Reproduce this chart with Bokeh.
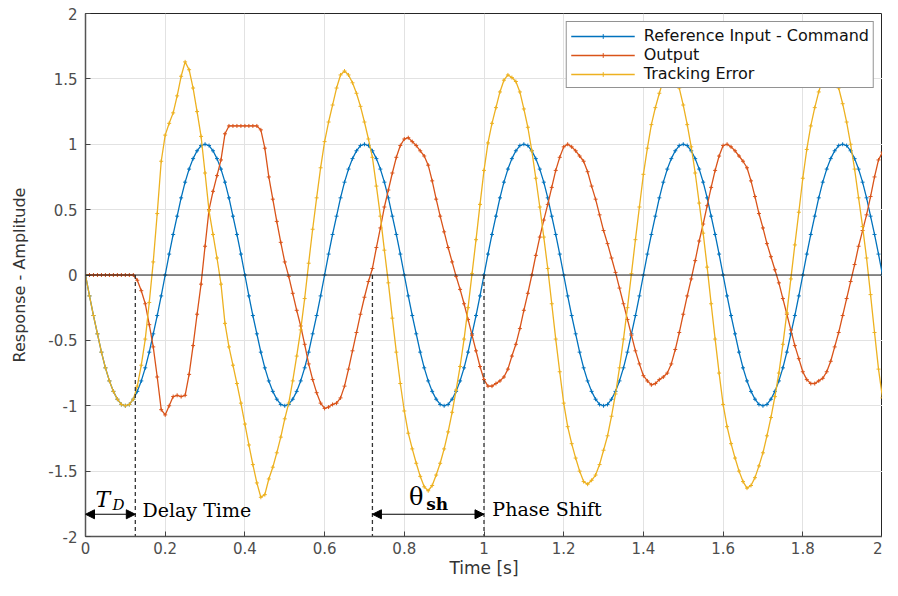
import numpy as np
from bokeh.plotting import figure
from bokeh.models import Span, Arrow, NormalHead, Label, FixedTicker, CustomJSTickFormatter, Range1d
from bokeh.embed import file_html
from bokeh.resources import INLINE

# ---------------- data ----------------
time_s = np.round(np.arange(201) * 0.01, 2)

reference_input = [
    0.0, -0.16, -0.31, -0.45, -0.59, -0.71, -0.81, -0.89, -0.95, -0.99,
    -1.0, -0.99, -0.95, -0.89, -0.81, -0.71, -0.59, -0.45, -0.31, -0.16,
    0.0, 0.16, 0.31, 0.45, 0.59, 0.71, 0.81, 0.89, 0.95, 0.99,
    1.0, 0.99, 0.95, 0.89, 0.81, 0.71, 0.59, 0.45, 0.31, 0.16,
    0.0, -0.16, -0.31, -0.45, -0.59, -0.71, -0.81, -0.89, -0.95, -0.99,
    -1.0, -0.99, -0.95, -0.89, -0.81, -0.71, -0.59, -0.45, -0.31, -0.16,
    0.0, 0.16, 0.31, 0.45, 0.59, 0.71, 0.81, 0.89, 0.95, 0.99,
    1.0, 0.99, 0.95, 0.89, 0.81, 0.71, 0.59, 0.45, 0.31, 0.16,
    0.0, -0.16, -0.31, -0.45, -0.59, -0.71, -0.81, -0.89, -0.95, -0.99,
    -1.0, -0.99, -0.95, -0.89, -0.81, -0.71, -0.59, -0.45, -0.31, -0.16,
    0.0, 0.16, 0.31, 0.45, 0.59, 0.71, 0.81, 0.89, 0.95, 0.99,
    1.0, 0.99, 0.95, 0.89, 0.81, 0.71, 0.59, 0.45, 0.31, 0.16,
    0.0, -0.16, -0.31, -0.45, -0.59, -0.71, -0.81, -0.89, -0.95, -0.99,
    -1.0, -0.99, -0.95, -0.89, -0.81, -0.71, -0.59, -0.45, -0.31, -0.16,
    0.0, 0.16, 0.31, 0.45, 0.59, 0.71, 0.81, 0.89, 0.95, 0.99,
    1.0, 0.99, 0.95, 0.89, 0.81, 0.71, 0.59, 0.45, 0.31, 0.16,
    0.0, -0.16, -0.31, -0.45, -0.59, -0.71, -0.81, -0.89, -0.95, -0.99,
    -1.0, -0.99, -0.95, -0.89, -0.81, -0.71, -0.59, -0.45, -0.31, -0.16,
    0.0, 0.16, 0.31, 0.45, 0.59, 0.71, 0.81, 0.89, 0.95, 0.99,
    1.0, 0.99, 0.95, 0.89, 0.81, 0.71, 0.59, 0.45, 0.31, 0.16,
    0.0,
]

output = [
    0.0, 0.0, 0.0, 0.0, 0.0, 0.0, 0.0, 0.0, 0.0, 0.0,
    0.0, 0.0, 0.0, -0.04, -0.12, -0.22, -0.38, -0.55, -0.78, -1.03,
    -1.07, -1.0, -0.93, -0.92, -0.93, -0.92, -0.76, -0.54, -0.3, -0.07,
    0.22, 0.5, 0.64, 0.76, 0.88, 1.08, 1.14, 1.14, 1.14, 1.14,
    1.14, 1.14, 1.14, 1.14, 1.11, 0.97, 0.75, 0.58, 0.41, 0.25,
    0.1, -0.01, -0.14, -0.27, -0.39, -0.53, -0.68, -0.8, -0.9, -0.98,
    -1.02, -1.01, -0.99, -0.98, -0.94, -0.85, -0.72, -0.58, -0.44, -0.3,
    -0.17, -0.05, 0.05, 0.21, 0.36, 0.52, 0.65, 0.78, 0.9, 0.99,
    1.04, 1.05, 1.02, 0.99, 0.95, 0.91, 0.84, 0.72, 0.58, 0.45,
    0.33, 0.21, 0.1, -0.01, -0.11, -0.22, -0.34, -0.46, -0.58, -0.7,
    -0.8, -0.85, -0.85, -0.83, -0.81, -0.78, -0.72, -0.62, -0.53, -0.41,
    -0.27, -0.14, 0.0, 0.15, 0.29, 0.42, 0.54, 0.67, 0.8, 0.9,
    0.98, 1.0, 0.98, 0.95, 0.91, 0.87, 0.79, 0.68, 0.58, 0.46,
    0.34, 0.24, 0.13, 0.02, -0.1, -0.22, -0.34, -0.46, -0.58, -0.68,
    -0.77, -0.81, -0.84, -0.83, -0.8, -0.78, -0.75, -0.68, -0.57, -0.44,
    -0.3, -0.16, -0.03, 0.11, 0.26, 0.39, 0.53, 0.67, 0.8, 0.91,
    0.99, 1.0, 0.98, 0.95, 0.91, 0.87, 0.82, 0.72, 0.6, 0.47,
    0.36, 0.24, 0.14, 0.04, -0.06, -0.18, -0.3, -0.42, -0.54, -0.64,
    -0.74, -0.8, -0.83, -0.83, -0.81, -0.79, -0.74, -0.66, -0.55, -0.44,
    -0.31, -0.18, -0.05, 0.08, 0.22, 0.34, 0.46, 0.6, 0.75, 0.88,
    0.94,
]

tracking_error = [
    0.0, -0.16, -0.31, -0.45, -0.59, -0.71, -0.81, -0.89, -0.95, -0.99,
    -1.0, -0.99, -0.95, -0.85, -0.69, -0.49, -0.21, 0.1, 0.47, 0.87,
    1.07, 1.16, 1.24, 1.37, 1.52, 1.63, 1.57, 1.43, 1.25, 1.06,
    0.78, 0.49, 0.31, 0.13, -0.07, -0.37, -0.55, -0.69, -0.83, -0.98,
    -1.14, -1.3, -1.45, -1.59, -1.7, -1.68, -1.56, -1.47, -1.36, -1.24,
    -1.1, -0.98, -0.81, -0.62, -0.42, -0.18, 0.09, 0.35, 0.59, 0.82,
    1.02, 1.17, 1.3, 1.43, 1.53, 1.56, 1.53, 1.47, 1.39, 1.29,
    1.17, 1.04, 0.9, 0.68, 0.45, 0.19, -0.06, -0.33, -0.59, -0.83,
    -1.04, -1.21, -1.33, -1.44, -1.54, -1.62, -1.65, -1.61, -1.53, -1.44,
    -1.33, -1.2, -1.05, -0.88, -0.7, -0.49, -0.25, 0.01, 0.27, 0.54,
    0.8, 1.01, 1.16, 1.28, 1.4, 1.49, 1.53, 1.51, 1.48, 1.4,
    1.27, 1.13, 0.95, 0.74, 0.52, 0.29, 0.05, -0.22, -0.49, -0.74,
    -0.98, -1.16, -1.29, -1.4, -1.5, -1.58, -1.6, -1.57, -1.53, -1.45,
    -1.34, -1.23, -1.08, -0.91, -0.71, -0.49, -0.25, 0.01, 0.27, 0.52,
    0.77, 0.97, 1.15, 1.28, 1.39, 1.49, 1.56, 1.57, 1.52, 1.43,
    1.3, 1.15, 0.98, 0.78, 0.55, 0.32, 0.06, -0.22, -0.49, -0.75,
    -0.99, -1.16, -1.29, -1.4, -1.5, -1.58, -1.63, -1.61, -1.55, -1.46,
    -1.36, -1.23, -1.09, -0.93, -0.75, -0.53, -0.29, -0.03, 0.23, 0.48,
    0.74, 0.96, 1.14, 1.28, 1.4, 1.5, 1.55, 1.55, 1.5, 1.43,
    1.31, 1.17, 1.0, 0.81, 0.59, 0.37, 0.13, -0.15, -0.44, -0.72,
    -0.94,
]

series_names = ["Reference Input - Command", "Output", "Tracking Error"]
series_colors = ["#0072BD", "#D95319", "#EDB120"]

x_ticks = [0, 0.2, 0.4, 0.6, 0.8, 1.0, 1.2, 1.4, 1.6, 1.8, 2.0]
y_ticks = [-2, -1.5, -1, -0.5, 0, 0.5, 1, 1.5, 2]

delay_time = 0.125          # T_D
shift_start = 0.72          # output zero crossing
shift_end = 1.0             # reference zero crossing
arrow_level = -1.83

# ---------------- figure ----------------
p = figure(width=882, height=580, x_range=Range1d(0, 2), y_range=Range1d(-2, 2),
           output_backend="svg", toolbar_location=None,
           min_border_left=85, min_border_right=0, min_border_top=13, min_border_bottom=40)
p.background_fill_color = "white"
p.border_fill_color = "white"
p.outline_line_color = "#262626"
p.outline_line_width = 1

fmt = CustomJSTickFormatter(code="return tick.toFixed(2).replace(/\\.?0+$/, '');")
for ax, ticks in ((p.xaxis[0], x_ticks), (p.yaxis[0], y_ticks)):
    ax.ticker = FixedTicker(ticks=ticks)
    ax.formatter = fmt
    ax.major_tick_in = 5
    ax.major_tick_out = 0
    ax.minor_tick_line_color = None
    ax.major_tick_line_color = "#444444"
    ax.axis_line_color = "#555555"
    ax.axis_line_width = 1.5
    ax.major_label_text_font = "DejaVu Sans"
    ax.major_label_text_font_size = "15px"
    ax.major_label_text_color = "#4d4d4d"
    ax.axis_label_text_font = "DejaVu Sans"
    ax.axis_label_text_font_style = "normal"
    ax.axis_label_text_color = "#333333"

p.xaxis.major_label_standoff = 5
p.xaxis.axis_label = "Time [s]"
p.xaxis.axis_label_text_font_size = "17px"
p.xaxis.axis_label_standoff = 1
p.yaxis.major_label_standoff = 8
p.yaxis.axis_label = "Response - Amplitude"
p.yaxis.axis_label_text_font_size = "16px"
p.yaxis.axis_label_standoff = 16

p.xgrid.ticker = FixedTicker(ticks=x_ticks)
p.ygrid.ticker = FixedTicker(ticks=y_ticks)
p.grid.grid_line_color = "#e2e2e2"
p.grid.grid_line_width = 1

p.add_layout(Span(location=0, dimension="width", line_color="#222222", line_width=1))

for name, vals, col in zip(series_names, [reference_input, output, tracking_error], series_colors):
    p.line(time_s, vals, line_color=col, line_width=1.3, legend_label=name)
    p.scatter(time_s, vals, marker="cross", size=4, line_color=col, line_width=1, legend_label=name)

# dashed markers
marks = [delay_time, shift_start, shift_end]
p.segment(x0=marks, y0=[0] * 3, x1=marks, y1=[-2] * 3,
          line_color="#333333", line_width=1.3, line_dash="4 3")

# arrows
for xs, xe in ((0, delay_time), (shift_start, shift_end)):
    p.add_layout(Arrow(x_start=xs, y_start=arrow_level, x_end=xe, y_end=arrow_level,
                       line_color="black", line_width=1.2,
                       start=NormalHead(size=9, fill_color="black", line_color="black"),
                       end=NormalHead(size=9, fill_color="black", line_color="black")))

serif = "DejaVu Serif"
p.add_layout(Label(x=0.025, y=-1.72, text="T", text_font=serif, text_font_style="italic",
                   text_font_size="22px", text_baseline="middle", text_color="black"))
p.add_layout(Label(x=0.068, y=-1.76, text="D", text_font=serif, text_font_style="italic",
                   text_font_size="15px", text_baseline="middle", text_color="black"))
p.add_layout(Label(x=delay_time + 0.018, y=-1.80, text="Delay Time", text_font=serif,
                   text_font_size="19px", text_baseline="middle", text_color="black"))
p.add_layout(Label(x=0.812, y=-1.70, text="θ", text_font=serif,
                   text_font_size="24px", text_baseline="middle", text_color="black"))
p.add_layout(Label(x=0.855, y=-1.75, text="sh", text_font=serif, text_font_style="bold",
                   text_font_size="17px", text_baseline="middle", text_color="black"))
p.add_layout(Label(x=shift_end + 0.021, y=-1.79, text="Phase Shift", text_font=serif,
                   text_font_size="19px", text_baseline="middle", text_color="black"))

lg = p.legend[0]
lg.location = "top_right"
lg.margin = 8
lg.padding = 4
lg.spacing = 0
lg.label_height = 12
lg.glyph_height = 12
lg.glyph_width = 64
lg.label_standoff = 9
lg.label_text_font = "DejaVu Sans"
lg.label_text_font_size = "16px"
lg.label_text_line_height = 0.95
lg.label_text_color = "#111111"
lg.border_line_color = "#262626"
lg.border_line_width = 1
lg.background_fill_alpha = 1.0

open("out.html", "w").write(file_html(p, INLINE))
